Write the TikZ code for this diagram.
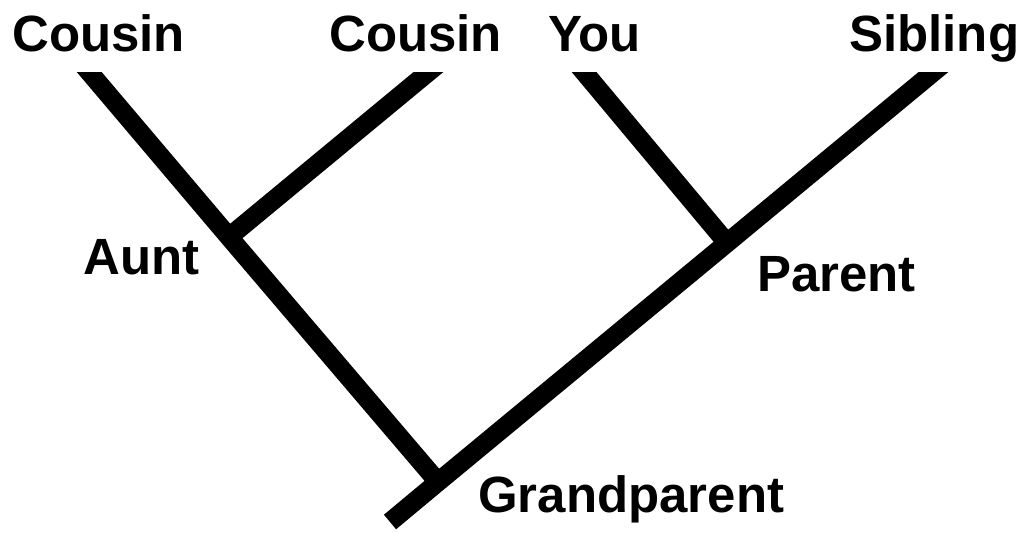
\documentclass[tikz,border=0pt]{standalone}
\usepackage{fontspec}
\setmainfont{Liberation Sans}
\begin{document}
\begin{tikzpicture}[x=0.02cm,y=-0.02cm]
    \useasboundingbox (0,0) rectangle (1019,533);
    % names
    \begin{scope}[every node/.style={anchor=base west,inner sep=0pt,font=\fontsize{29}{34}\selectfont\bfseries}]
    \node (cousinA) at (12,52) {Cousin};
    \node (cousinB) at (329,52) {Cousin};
    \node (you) at (548,52) {You};
    \node (sibling) at (849,52) {Sibling};
    \node (aunt) at (83,275) {Aunt};
    \node (parent) at (757,292) {Parent};
    \node (grand) at (478,513) {Grandparent};
    \end{scope}
    % branch points and line ends
    \coordinate (a) at (229,237);
    \coordinate (p) at (727,243);
    \coordinate (g) at (438,482);
    \coordinate (r) at (390,522);
    \coordinate (t1) at (79,60);
    \coordinate (t2) at (443,60);
    \coordinate (t3) at (574,60);
    \coordinate (t4) at (948,60);
    \begin{scope}[line width=0.38cm]
    \clip (0,73) rectangle (1019,533);
    \draw (t1) -- (a) -- (g);
    \draw (t4) -- (p) -- (g) -- (r);
    \draw (t2) -- (a);
    \draw (t3) -- (p);
    \end{scope}
\end{tikzpicture}
\end{document}
